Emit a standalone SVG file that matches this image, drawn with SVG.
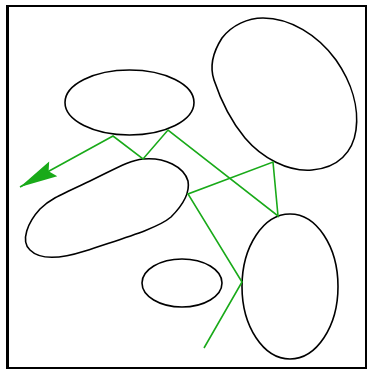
<svg xmlns="http://www.w3.org/2000/svg" width="367" height="369" viewBox="0 0 367 369">
<defs>
<style>
.shape{fill:none;stroke:#000;stroke-width:1.6}
.conn{fill:none;stroke:#19aa19;stroke-width:1.6;stroke-linejoin:miter}
</style>
<marker id="arrow" markerUnits="userSpaceOnUse" markerWidth="40" markerHeight="20" viewBox="-37 -9 38 18" refX="0" refY="0" orient="auto" overflow="visible">
<path d="M0,0 L-36,-8 L-31,0 L-36,8 Z" fill="#19aa19"/>
</marker>
</defs>
<rect width="367" height="369" fill="#fff"/>
<g id="frame">
<rect x="7" y="6" width="359" height="362" fill="none" stroke="#000" stroke-width="2"/>
<line x1="7.5" y1="5" x2="7.5" y2="369" stroke="#000" stroke-width="3"/>
</g>
<g id="node-ellipse-top">
<ellipse class="shape" cx="129.5" cy="102.5" rx="64.5" ry="32.5"/>
</g>
<g id="node-blob-top-right">
<path class="shape" d="M263,18 C290,18 318,35 336,60 C352,83 359,108 356,130 C353,152 338,168 312,170 C288,172 262,158 245,138 C230,120 220,98 214,80 C209,65 213,52 222,38 C232,25 248,18 263,18 Z"/>
</g>
<g id="node-blob-left">
<path class="shape" d="M143,159 C165,157 184,167 188,181 C190,192 183,205 171,217 C157,229 120,239 85,251 C60,259 40,260 30,250 C20,241 28,222 40,209 C50,199 60,195 90,181 C115,169 130,160 143,159 Z"/>
</g>
<g id="node-ellipse-small">
<ellipse class="shape" cx="182" cy="283" rx="40" ry="24"/>
</g>
<g id="node-ellipse-right">
<ellipse class="shape" cx="290" cy="286.5" rx="48" ry="72.5"/>
</g>
<g id="connectors">
<polyline class="conn" points="204,348 242,282 188,194 273,162 278,216 168,130 143,159 113,136 20,187" marker-end="url(#arrow)"/>
</g>
</svg>
